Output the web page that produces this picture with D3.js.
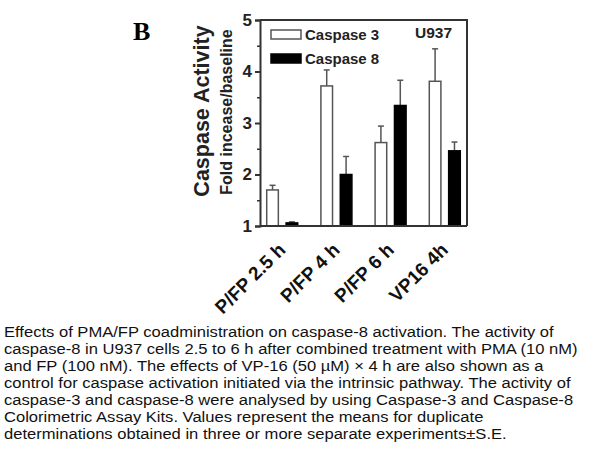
<!DOCTYPE html>
<html>
<head>
<meta charset="utf-8">
<script src="https://cdn.jsdelivr.net/npm/d3@7"></script>
<style>
  body { margin: 0; background: #fff; }
  svg { display: block; font-family: Arial, "Liberation Sans", sans-serif; }
</style>
</head>
<body>
<main></main>
<script>
// data
const groups = ["P/FP 2.5 h", "P/FP 4 h", "P/FP 6 h", "VP16 4h"];
const series = ["Caspase 3", "Caspase 8"];
const casp3 = [1.70, 3.72, 2.62, 3.81];
const casp3Err = [0.09, 0.31, 0.32, 0.63];
const casp8 = [1.06, 2.00, 3.34, 2.46];
const casp8Err = [0.02, 0.35, 0.49, 0.17];
const yTicks = [1, 2, 3, 4, 5];
const yMinor = [1.5, 2.5, 3.5, 4.5];
const caption = [
  "Effects of PMA/FP coadministration on caspase-8 activation. The activity of",
  "caspase-8 in U937 cells 2.5 to 6 h after combined treatment with PMA (10 nM)",
  "and FP (100 nM). The effects of VP-16 (50 \u00b5M) \u00d7 4 h are also shown as a",
  "control for caspase activation initiated via the intrinsic pathway. The activity of",
  "caspase-3 and caspase-8 were analysed by using Caspase-3 and Caspase-8",
  "Colorimetric Assay Kits. Values represent the means for duplicate",
  "determinations obtained in three or more separate experiments\u00b1S.E."
];

const width = 605, height = 454;
const svg = d3.select("main").append("svg")
    .attr("width", width)
    .attr("height", height);

// plot area
const x0 = 260, x1 = 467, yTop = 20, yBot = 226;

const x = d3.scalePoint().domain(groups).range([x0, x1]).padding(0.41);
const xs = d3.scaleBand().domain(series).range([-15.5, 15.5]).paddingInner(0.4);
const y = d3.scaleLinear().domain([1, 5]).range([yBot, yTop]);

const rows = groups.map((g, i) => ({
  g,
  vals: [
    { s: series[0], v: casp3[i], e: casp3Err[i] },
    { s: series[1], v: casp8[i], e: casp8Err[i] }
  ]
}));

// bars
const grp = svg.append("g").selectAll("g")
    .data(rows)
    .enter().append("g")
    .attr("transform", d => `translate(${x(d.g)},0)`);

grp.selectAll("line.err")
    .data(d => d.vals)
    .enter().append("line")
    .attr("class", "err")
    .attr("x1", d => xs(d.s) + xs.bandwidth() / 2)
    .attr("x2", d => xs(d.s) + xs.bandwidth() / 2)
    .attr("y1", d => y(d.v))
    .attr("y2", d => y(d.v + d.e))
    .attr("stroke", "#555")
    .attr("stroke-width", 1.5);

grp.selectAll("line.cap")
    .data(d => d.vals)
    .enter().append("line")
    .attr("class", "cap")
    .attr("x1", d => xs(d.s) + xs.bandwidth() / 2 - 3)
    .attr("x2", d => xs(d.s) + xs.bandwidth() / 2 + 3)
    .attr("y1", d => y(d.v + d.e))
    .attr("y2", d => y(d.v + d.e))
    .attr("stroke", "#555")
    .attr("stroke-width", 1.5);

grp.selectAll("rect")
    .data(d => d.vals)
    .enter().append("rect")
    .attr("x", d => xs(d.s))
    .attr("width", xs.bandwidth())
    .attr("y", d => y(d.v))
    .attr("height", d => yBot - y(d.v))
    .attr("fill", d => d.s === series[0] ? "#fff" : "#000")
    .attr("stroke", d => d.s === series[0] ? "#555" : "#000")
    .attr("stroke-width", 1.5);

// frame (top and right)
svg.append("path")
    .attr("d", `M${x0},${yTop}H${x1}V${yBot}`)
    .attr("fill", "none")
    .attr("stroke", "#333")
    .attr("stroke-width", 2);

// y axis
const yAxis = svg.append("g")
    .attr("transform", `translate(${x0},0)`)
    .call(d3.axisLeft(y).tickValues(yTicks).tickFormat(d3.format("d")).tickSize(5).tickPadding(3));
yAxis.select(".domain").attr("stroke", "#333").attr("stroke-width", 2);
yAxis.selectAll(".tick line").attr("stroke", "#333").attr("stroke-width", 2);
yAxis.selectAll(".tick text")
    .attr("font-size", 17).attr("font-weight", "bold").attr("fill", "#222");

svg.append("g")
    .attr("transform", `translate(${x0},0)`)
    .call(d3.axisLeft(y).tickValues(yMinor).tickFormat("").tickSize(3))
    .call(g => g.select(".domain").remove())
    .selectAll(".tick line").attr("stroke", "#333").attr("stroke-width", 1.5);

// x axis (baseline)
const xAxis = svg.append("g")
    .attr("transform", `translate(0,${yBot})`)
    .call(d3.axisBottom(x).tickSize(0).tickPadding(0));
xAxis.select(".domain").attr("stroke", "#333").attr("stroke-width", 2)
    .attr("d", `M${x0},0H${x1}`);
xAxis.selectAll(".tick text")
    .attr("font-size", 19).attr("font-weight", "bold").attr("fill", "#111")
    .attr("text-anchor", "end")
    .attr("dy", 0)
    .attr("transform", "translate(4,25) rotate(-45)");

// axis titles
svg.append("text")
    .attr("transform", `translate(209,111) rotate(-90)`)
    .attr("text-anchor", "middle")
    .attr("font-size", 21.5).attr("font-weight", "bold").attr("fill", "#222")
    .text("Caspase Activity");
svg.append("text")
    .attr("transform", `translate(232,112) rotate(-90)`)
    .attr("text-anchor", "middle")
    .attr("font-size", 16).attr("font-weight", "bold").attr("fill", "#222")
    .text("Fold incease/baseline");

// panel letter
svg.append("text")
    .attr("x", 133).attr("y", 40)
    .attr("font-family", "'Liberation Serif', 'Times New Roman', serif")
    .attr("font-size", 26).attr("font-weight", "bold")
    .text("B");

// legend
const legend = svg.append("g").selectAll("g")
    .data(series)
    .enter().append("g")
    .attr("transform", (d, i) => `translate(271,${30 + i * 24})`);
legend.append("rect")
    .attr("width", 30).attr("height", 9)
    .attr("fill", (d, i) => i === 0 ? "#fff" : "#000")
    .attr("stroke", (d, i) => i === 0 ? "#555" : "#000")
    .attr("stroke-width", 1.5);
legend.append("text")
    .attr("x", 34).attr("y", 10)
    .attr("font-size", 15).attr("font-weight", "bold").attr("fill", "#222")
    .text(d => d);

svg.append("text")
    .attr("x", 415).attr("y", 38)
    .attr("font-size", 15.5).attr("font-weight", "bold").attr("fill", "#222")
    .text("U937");

// caption (source image is slightly stretched horizontally)
svg.append("g")
    .attr("transform", "translate(4,0) scale(1.12,1)")
    .selectAll("text")
    .data(caption)
    .enter().append("text")
    .attr("x", 0)
    .attr("y", (d, i) => 337 + i * 17)
    .attr("font-size", 14.8).attr("fill", "#111")
    .text(d => d);
</script>
</body>
</html>
